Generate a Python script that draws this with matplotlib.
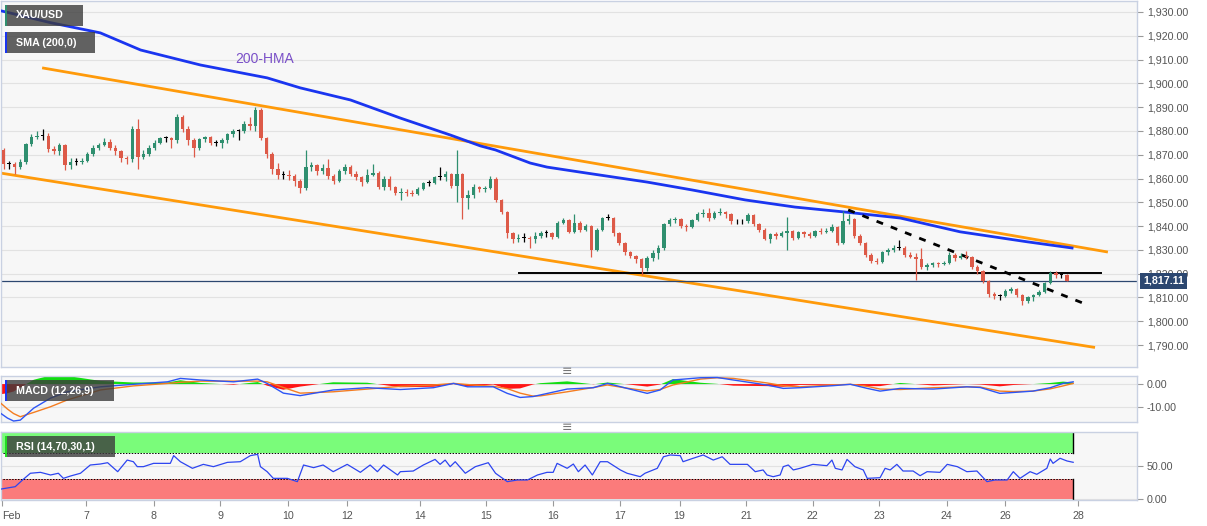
import matplotlib
matplotlib.use('Agg')
import matplotlib.pyplot as plt
from matplotlib.patches import Rectangle
from matplotlib.ticker import FuncFormatter, FixedLocator
from matplotlib.transforms import blended_transform_factory
import numpy as np

plt.rcParams['font.family'] = ['Liberation Sans', 'DejaVu Sans']

# ---------------- data (2-hour candles, XAU/USD) ----------------
first_open = 1872.0
close = [1866, 1866, 1865, 1867, 1874.5, 1877.5, 1878, 1878, 1872.5, 1871.5,
         1874, 1865.5, 1867, 1867, 1867.5, 1870.5, 1873, 1874, 1875.5, 1873,
         1871.5, 1868.5, 1868, 1881, 1869, 1870.5, 1873, 1875, 1877, 1877,
         1876, 1886, 1881, 1876, 1873, 1876.5, 1877.5, 1875, 1875, 1876,
         1878.5, 1880, 1880, 1883, 1882, 1889, 1877, 1870.5, 1864, 1861.5,
         1861.5, 1861, 1859, 1856, 1865, 1865.5, 1863, 1864.5, 1861, 1859,
         1863, 1865, 1862, 1860.5, 1858.5, 1861.5, 1862.5, 1856.5, 1860, 1856.5,
         1854, 1854.5, 1854, 1853.5, 1855.5, 1858, 1858, 1860.5, 1860.5, 1862,
         1857, 1862, 1852, 1853, 1856.5, 1855.5, 1856, 1860, 1851, 1846,
         1837, 1834.5, 1835, 1835, 1834.5, 1836, 1837, 1837, 1835.5, 1841.5,
         1842.5, 1837.5, 1841.5, 1838.5, 1840, 1830, 1838.5, 1843.5, 1843.5, 1837,
         1833, 1829, 1827.5, 1826, 1822.5, 1826.5, 1828.5, 1831, 1841, 1842.5,
         1843, 1840, 1839.5, 1842.5, 1845, 1845.5, 1843.5, 1845.5, 1846, 1845,
         1842, 1842, 1842, 1844.5, 1841, 1838.5, 1834.5, 1836.5, 1836, 1837,
         1838, 1835, 1837.5, 1836.5, 1836, 1838, 1837.5, 1838, 1839.5, 1833,
         1842, 1843, 1836, 1833, 1828, 1825.5, 1825, 1829, 1830, 1831,
         1831, 1828, 1827, 1826, 1823, 1823.5, 1824.5, 1824, 1824.5, 1828,
         1826.5, 1827.5, 1827, 1823, 1821, 1817, 1811.5, 1810.5, 1810.5, 1812.7,
         1813.7, 1811, 1808.5, 1810, 1811, 1812.5, 1816, 1820.5, 1819.5, 1819.5,
         1817.11]
high = [1873, 1867.5, 1867, 1868, 1875, 1878.5, 1880, 1881, 1879, 1873.5,
        1875, 1874.5, 1868.5, 1868.5, 1868.5, 1871, 1874, 1875, 1877, 1876.5,
        1874, 1872, 1869.5, 1882, 1885, 1872, 1874, 1876, 1877.5, 1878,
        1877.5, 1887, 1886.5, 1882, 1877, 1877, 1878, 1878, 1876, 1877,
        1879, 1881, 1881, 1884, 1886, 1890, 1889.5, 1877.5, 1871, 1866.5,
        1863, 1863.5, 1862, 1860, 1872, 1867, 1866, 1866, 1868, 1862,
        1864, 1866, 1865.5, 1863, 1861, 1864, 1866, 1863, 1861, 1861,
        1857, 1856, 1855.5, 1855, 1856.5, 1858.5, 1859.5, 1861, 1865, 1863,
        1862.5, 1872, 1862.5, 1855, 1857.5, 1857, 1857, 1861, 1860.5, 1851.5,
        1846.5, 1837.5, 1836.5, 1837, 1836, 1837.5, 1838, 1838.5, 1837.5, 1842,
        1843.5, 1843, 1845, 1842, 1841, 1840.5, 1839, 1844, 1845, 1844,
        1837.5, 1833.5, 1829.5, 1828, 1826.5, 1827.5, 1830, 1832, 1841.5, 1843.5,
        1844, 1843.5, 1841, 1843, 1846, 1847, 1847.5, 1846.5, 1847.5, 1846.5,
        1845.5, 1843, 1843, 1845.5, 1845, 1841.5, 1839, 1837, 1837.5, 1838,
        1844, 1838.5, 1838, 1838, 1837.5, 1838.5, 1839, 1839, 1841, 1840,
        1846.5, 1845, 1843.5, 1836.5, 1833.5, 1828.5, 1826.5, 1829.5, 1831, 1832,
        1834, 1831.5, 1829, 1828.5, 1831, 1824.5, 1825, 1825, 1825.5, 1829,
        1828.5, 1828.5, 1829.5, 1827.5, 1823.5, 1821.5, 1817.5, 1812.5, 1811.5, 1813.5,
        1814.5, 1814, 1811.5, 1810.5, 1811.5, 1813, 1816.5, 1821, 1821, 1820.5,
        1819.7]
low = [1864, 1864, 1862, 1864, 1866, 1873.5, 1876.5, 1876, 1871, 1870.5,
       1870, 1863.5, 1864, 1865.5, 1866, 1867, 1869.5, 1872, 1873.5, 1872,
       1870, 1867, 1866, 1867, 1864, 1868, 1869.5, 1872, 1874.5, 1875.5,
       1873, 1875, 1879.5, 1874, 1869, 1872, 1875.5, 1874, 1873.5, 1873,
       1875, 1877.5, 1876, 1879, 1880.5, 1880, 1876, 1868.5, 1862, 1860,
       1860, 1859.5, 1857, 1854, 1855, 1863, 1861.5, 1862, 1860, 1857.5,
       1858.5, 1862, 1861, 1859.5, 1857, 1858, 1861, 1855.5, 1855, 1855,
       1853, 1851, 1852.5, 1852.5, 1853, 1855, 1857, 1857.5, 1859.5, 1859,
       1856, 1850, 1843, 1847, 1852, 1854.5, 1854.5, 1855.5, 1850, 1845,
       1835, 1833, 1833.5, 1833.5, 1831, 1833, 1835, 1835.5, 1834.5, 1835,
       1841, 1837, 1837, 1837.5, 1838, 1827, 1829.5, 1838, 1842.5, 1836,
       1832, 1828, 1826.5, 1824.5, 1819.5, 1821, 1825.5, 1826, 1830, 1840,
       1841.5, 1839, 1838, 1839, 1842, 1844, 1842, 1843, 1844.5, 1843.5,
       1841, 1841, 1841, 1841.5, 1840, 1837.5, 1834, 1833, 1834.5, 1835.5,
       1830, 1834, 1834.5, 1835.5, 1835, 1835.5, 1836.5, 1837, 1837.5, 1832,
       1832.5, 1841, 1835, 1832, 1827, 1824.5, 1824, 1824.5, 1828, 1829,
       1830, 1827, 1826.5, 1817.5, 1822, 1821.5, 1823, 1823, 1823.5, 1824,
       1825.5, 1826, 1826, 1822, 1820, 1816, 1810, 1809.5, 1809, 1810,
       1812, 1810, 1806.7, 1807.5, 1808.5, 1810.5, 1812, 1815.5, 1818, 1818,
       1816.8]

# 200-period moving average (candle index / price)
sma_idx = [-0.5, 8.4, 17.3, 24.5, 35.2, 47.1, 53.0, 62.0, 70.9, 79.8, 85.2, 87.9,
           94.1, 97.1, 103.0, 115.0, 123.0, 132.5, 141.4, 150.4, 160.2, 170.9,
           182.9, 190.9]
sma_val = [1930.5, 1925.5, 1921.2, 1914.0, 1907.7, 1902.3, 1898.1, 1893.0, 1885.4,
           1878.3, 1873.7, 1872.0, 1866.5, 1864.8, 1862.7, 1858.5, 1855.2, 1851.0,
           1848.0, 1845.9, 1843.4, 1837.6, 1833.4, 1830.8]

# drawn trend lines (candle index, price)
upper_ch_idx, upper_ch_px = [6.9, 197.3], [1906.5, 1829.1]
lower_ch_idx, lower_ch_px = [-0.54, 195.0], [1862.3, 1789.0]
support_idx, support_px = [92.1, 196.0], [1820.2, 1820.2]
down_tl_idx, down_tl_px = [150.9, 193.75], [1846.8, 1806.8]

# MACD (12,26,9)
macd_idx = [-0.5, 0.7, 1.8, 3.0, 5.4, 8.4, 11.4, 17.3, 23.2, 29.3, 31.6, 35.2, 41.1, 45.4,
            47.1, 50.0, 53.0, 58.9, 65.0, 70.9, 76.8, 80.4, 82.9, 87.5, 90.0, 92.3, 94.6,
            95.9, 100.7, 105.4, 107.9, 111.4, 115.0, 117.3, 119.6, 124.5, 127.5, 130.4,
            136.4, 139.3, 142.3, 148.2, 151.3, 154.3, 156.6, 160.2, 166.1, 172.1, 174.5,
            178.0, 180.4, 183.9, 187.0, 189.3, 191.1]
macd_val = [-12.9, -15.0, -16.3, -15.9, -10.6, -6.2, -3.4, -1.2, -0.1, 1.0, 2.5, 1.8, 1.0, 2.2,
            0.3, -4.0, -5.1, -2.6, -1.6, -2.4, -1.6, 0.3, -1.2, -1.2, -4.1, -5.9, -5.5,
            -4.8, -2.2, -1.6, 0.3, -1.9, -4.1, -2.6, 1.8, 2.8, 2.9, 1.8,
            -0.4, -1.9, -1.6, -0.7, -0.1, -1.9, -3.1, -1.9, -2.2, -1.2, -1.5,
            -4.1, -3.7, -3.1, -1.6, 0.3, 1.0]
signal_val = [-8.4, -11.0, -13.0, -14.4, -12.5, -10.0, -7.0, -2.6, -0.8, 0.3, 0.8, 1.3, 1.3, 1.3,
              1.0, -1.5, -4.0, -3.4, -2.2, -1.0, -0.4, 0.3, -0.2, -1.0, -2.0, -4.0, -5.3,
              -5.2, -3.4, -1.5, -0.4, -1.8, -3.0, -2.4, -0.4, 2.2, 2.8, 2.5,
              0.5, -0.7, -1.2, -0.4, -0.1, -1.0, -2.2, -2.4, -1.6, -1.2, -1.3,
              -3.1, -3.3, -3.1, -2.1, -0.8, 0.3]

# RSI (14,70,30,1)
rsi_idx = [-0.5, 2.1, 3.4, 4.8, 6.6, 8.4, 9.8, 10.7, 11.96, 13.75, 15.5, 17.3, 18.6, 20.4,
           22.1, 23.2, 23.9, 25.0, 26.8, 29.8, 30.4, 31.6, 33.75, 35.7, 37.5, 40.0, 42.3,
           44.1, 45.4, 45.9, 47.1, 48.2, 50.7, 52.5, 53.6, 55.4, 57.1, 58.9, 61.4, 63.75,
           65.5, 66.8, 67.9, 70.4, 70.9, 73.2, 75.0, 77.1, 78.0, 78.9, 79.8, 80.7, 82.5,
           84.3, 86.6, 87.9, 90.0, 91.8, 93.6, 95.4, 97.1, 98.2, 98.9, 100.7, 101.8, 102.7,
           103.9, 105.2, 106.6, 107.9, 110.2, 111.4, 113.75, 114.6, 116.8, 117.9, 119.1,
           120.9, 121.4, 123.2, 125.0, 126.8, 128.4, 129.8, 132.9, 134.3, 135.7, 136.4,
           137.5, 138.75, 139.3, 140.2, 141.1, 142.3, 144.6, 147.1, 148.0, 148.6, 149.8,
           150.7, 152.1, 153.6, 154.3, 156.6, 157.5, 158.4, 159.6, 160.7, 162.5, 163.75,
           165.0, 167.3, 168.6, 170.4, 172.1, 173.9, 175.7, 177.1, 179.3, 180.4, 181.6,
           183.4, 184.6, 186.4, 187.0, 187.5, 188.75, 190.0, 191.1]
rsi_val = [15, 18.7, 28.8, 39, 40.4, 36.4, 39, 31.3, 34.8, 39, 51.5, 53, 55, 41.4,
           59, 56.5, 49, 49, 54, 54, 65.7, 56.5, 46.5, 52.5, 49, 55.5, 56.5,
           65.7, 67.7, 49, 41.4, 31.3, 31.3, 26.3, 51.5, 47.5, 51.5, 41.4, 52.5, 40.4,
           51.5, 41.4, 51.5, 36.4, 41.4, 42.4, 51.5, 60, 52.5, 59, 49, 56.5, 39,
           49, 55, 39, 26.3, 28.8, 28.8, 36.4, 40.4, 40.4, 54, 46.5, 53, 41.4,
           51.5, 36.4, 56.5, 56.5, 44, 39, 33.8, 39, 46.5, 64, 66.7,
           65.7, 56.5, 61.7, 66.7, 59, 64, 52.5, 52.5, 41.4, 44, 36.4,
           33.8, 36.4, 49, 51.5, 44, 46.5, 52.5, 50.5, 59, 46.5, 44,
           60, 49, 44, 31.3, 32.3, 46.5, 44, 52.5, 42.4, 42.4, 35.3,
           41.4, 40.4, 52.5, 49, 41.4, 42.4, 26.3, 28.8, 28.8, 41.4, 31.3,
           41.4, 37.4, 46.5, 60.6, 54, 61.7, 57.6, 55.6]

xtick_idx = [-0.27, 14.82, 26.84, 38.75, 50.77, 61.38, 74.34, 86.25, 98.16, 110.18,
             120.77, 132.68, 144.59, 156.48, 168.52, 178.93, 192.02]
xtick_lab = ['Feb', '7', '8', '9', '10', '12', '14', '15', '16', '17', '19', '21',
             '22', '23', '24', '26', '28']

price_ticks = list(range(1790, 1931, 10))
macd_ticks = [0, -10]
rsi_ticks = [0, 50]

# ---------------- layout ----------------
W, H = 1207, 526
fig = plt.figure(figsize=(W / 100, H / 100), dpi=100)
fig.patch.set_facecolor('white')


def rect(x0, y0, x1, y1):
    return [x0 / W, 1 - y1 / H, (x1 - x0) / W, (y1 - y0) / H]


BG = '#f7f7f7'
SPINE = '#c9d1e2'
GRID = '#e2e2e2'
TXT = '#555555'
GREEN = '#2f8f6f'
RED = '#dd5a48'
BLUE = '#1a35f0'
ORANGE = '#ff9a0a'
NAVY = '#2c4770'

ax = fig.add_axes(rect(0.5, 1, 1137, 366.5))
axm = fig.add_axes(rect(0.5, 375.7, 1137, 421.7), sharex=ax)
axr = fig.add_axes(rect(0.5, 432, 1137, 500), sharex=ax)

fmt = FuncFormatter(lambda v, p: f"{v:,.2f}")
for a in (ax, axm, axr):
    a.set_facecolor(BG)
    for s in a.spines.values():
        s.set_color(SPINE)
        s.set_linewidth(1.0)
    a.yaxis.tick_right()
    a.tick_params(axis='y', colors='#999999', labelcolor=TXT, labelsize=7.7,
                  length=4, width=0.8, pad=3)
    a.yaxis.set_major_formatter(fmt)
    a.grid(axis='y', color=GRID, lw=0.8)
    a.set_axisbelow(True)

n = len(close)
idx = np.arange(n)
opens = np.array([first_open] + close[:-1])
closes = np.array(close)
highs = np.array(high)
lows = np.array(low)

ax.set_xlim(-0.536, 202.5)
ax.set_ylim(1781.0, 1934.6)
ax.yaxis.set_major_locator(FixedLocator(price_ticks))

# channel + lines
ax.plot(upper_ch_idx, upper_ch_px, color=ORANGE, lw=2.0, zorder=2, solid_capstyle='butt')
ax.plot(lower_ch_idx, lower_ch_px, color=ORANGE, lw=2.0, zorder=2, solid_capstyle='butt')
ax.plot(sma_idx, sma_val, color=BLUE, lw=2.0, zorder=3, solid_joinstyle='round')
ax.plot(support_idx, support_px, color='black', lw=1.4, zorder=4)
ax.plot(down_tl_idx, down_tl_px, color='black', lw=2.0, ls=(0, (2.5, 3)), zorder=4)
ax.axhline(close[-1], color=NAVY, lw=0.9, zorder=2)

# candles
cols = np.where(closes > opens, GREEN, np.where(closes < opens, RED, 'black'))
ax.vlines(idx, lows, highs, colors=cols, lw=0.9, zorder=5)
body_h = np.maximum(np.abs(closes - opens), 0.35)
ax.bar(idx, body_h, bottom=np.minimum(opens, closes), width=0.62, color=cols,
       edgecolor='none', zorder=6)

ax.text(41.4, 1910.2, '200-HMA', color='#7a50c8', fontsize=10, va='center', ha='left')

# price tag
tr = blended_transform_factory(ax.transAxes, ax.transData)
ax.text(1.0 + 6 / 1137, close[-1], f"{close[-1]:,.2f}", transform=tr, ha='left', va='center',
        color='white', fontsize=7.7, fontweight='bold', zorder=20,
        bbox=dict(boxstyle='square,pad=0.28', fc=NAVY, ec='none'))

# MACD
axm.set_ylim(-16.6, 3.7)
axm.yaxis.set_major_locator(FixedLocator(macd_ticks))
m_i = np.array(macd_idx)
m_v = np.array(macd_val)
s_v = np.array(signal_val)
hist = m_v - s_v
axm.fill_between(m_i, 0, hist, where=hist >= 0, interpolate=True, color='#12dd12', lw=0, zorder=2)
axm.fill_between(m_i, 0, hist, where=hist <= 0, interpolate=True, color='#ff1414', lw=0, zorder=2)
axm.plot(m_i, s_v, color='#f47c20', lw=1.0, zorder=3)
axm.plot(m_i, m_v, color='#2d55f5', lw=1.0, zorder=4)

# RSI
axr.set_ylim(-1.5, 101.5)
axr.yaxis.set_major_locator(FixedLocator(rsi_ticks))
band_end = n
axr.fill_between([-0.6, band_end], 70, 100, color='#7afc7a', lw=0, zorder=1)
axr.fill_between([-0.6, band_end], 0, 30, color='#fb7b7b', lw=0, zorder=1)
axr.plot([-0.6, band_end], [70, 70], color='black', lw=0.7, ls=(0, (1.5, 1.5)), zorder=2)
axr.plot([-0.6, band_end], [30, 30], color='black', lw=0.7, ls=(0, (1.5, 1.5)), zorder=2)
axr.plot([band_end, band_end], [70, 100], color='black', lw=1.0, zorder=2)
axr.plot([band_end, band_end], [0, 30], color='black', lw=1.0, zorder=2)
axr.plot(rsi_idx, rsi_val, color='#2d45f0', lw=0.9, zorder=3)

# x axis
for a in (ax, axm):
    a.tick_params(axis='x', bottom=False, labelbottom=False)
axr.xaxis.set_major_locator(FixedLocator(xtick_idx))
axr.set_xticklabels(xtick_lab)
axr.tick_params(axis='x', colors='#999999', labelcolor=TXT, labelsize=7.7, length=4,
                width=0.8, pad=4)
axr.get_xticklabels()[0].set_ha('left')


# legend boxes
def label_box(x0, y0, x1, y1, stripe, text):
    fig.patches.append(Rectangle((x0 / W, 1 - y1 / H), (x1 - x0) / W, (y1 - y0) / H,
                                 transform=fig.transFigure, fc='#3c3c3c', alpha=0.8,
                                 ec='none', zorder=10))
    fig.patches.append(Rectangle((x0 / W, 1 - y1 / H), 2.2 / W, (y1 - y0) / H,
                                 transform=fig.transFigure, fc=stripe, ec='none', zorder=11))
    fig.text((x0 + 11) / W, 1 - (y0 + y1) / 2 / H, text, color='white', fontsize=7.7,
             fontweight='bold', ha='left', va='center', zorder=12)


label_box(5, 5, 83, 26, GREEN, 'XAU/USD')
label_box(5, 32, 95, 53, BLUE, 'SMA (200,0)')
label_box(5, 380, 114, 401, BLUE, 'MACD (12,26,9)')
label_box(5, 436, 115, 457, '#22dd22', 'RSI (14,70,30,1)')

for ysep in (371, 427):
    fig.text(567 / W, 1 - ysep / H, '\u2261', color='#777777', fontsize=9,
             ha='center', va='center', family=['DejaVu Sans'])

fig.savefig('out.png', dpi=100, facecolor='white')
